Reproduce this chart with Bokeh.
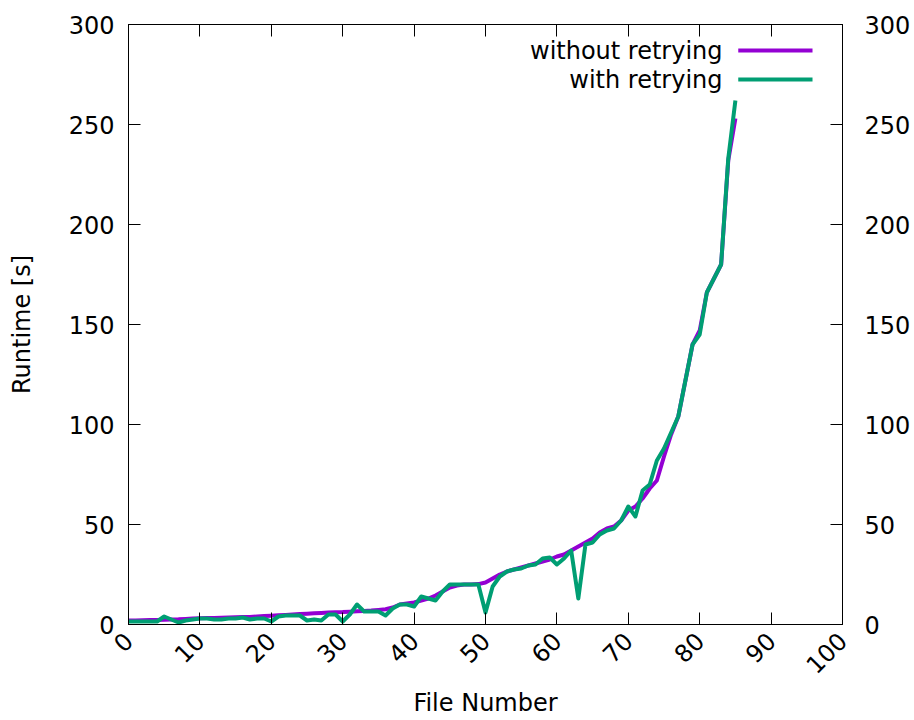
import math
from bokeh.plotting import figure
from bokeh.models import LinearAxis, FixedTicker, Range1d, Label, BoxAnnotation
from bokeh.embed import file_html
from bokeh.resources import INLINE

file_number = list(range(86))
without_retrying = [
    2.0, 2.0, 2.1, 2.2, 2.3, 2.4, 2.5, 2.6, 2.8, 3.0,
    3.1, 3.2, 3.3, 3.4, 3.5, 3.6, 3.7, 3.8, 4.0, 4.2,
    4.4, 4.6, 4.8, 5.0, 5.2, 5.4, 5.6, 5.8, 6.0, 6.1,
    6.2, 6.4, 6.6, 6.8, 7.0, 7.3, 7.6, 8.5, 10.0, 10.5,
    11.0, 12.0, 13.0, 14.5, 16.5, 18.5, 19.5, 20.0, 20.0, 20.2,
    21.0, 23.0, 25.0, 26.5, 27.5, 28.5, 29.5, 30.5, 31.5, 32.5,
    34.0, 35.0, 37.0, 39.0, 41.0, 43.0, 46.0, 48.0, 49.0, 52.0,
    57.0, 59.0, 63.0, 68.0, 72.0, 84.0, 95.0, 104.0, 122.0, 140.0,
    147.0, 166.0, 173.0, 180.0, 232.0, 253.0,
]
with_retrying = [
    1.5, 1.5, 1.5, 1.5, 1.5, 4.0, 2.5, 1.0, 2.0, 2.5,
    3.0, 3.0, 2.5, 2.5, 3.0, 3.0, 3.5, 2.5, 3.0, 3.0,
    1.5, 4.0, 4.5, 4.5, 4.5, 2.0, 2.5, 2.0, 5.0, 5.0,
    1.5, 5.0, 10.0, 6.5, 6.5, 6.5, 4.5, 8.0, 10.0, 10.0,
    9.0, 14.0, 13.0, 12.0, 16.5, 20.0, 20.0, 20.0, 20.0, 20.0,
    6.0, 19.0, 24.0, 26.5, 27.5, 28.0, 29.5, 30.0, 33.0, 33.5,
    30.0, 33.0, 37.0, 13.0, 40.0, 41.0, 45.0, 47.0, 48.0, 52.0,
    59.0, 54.0, 67.0, 70.0, 82.0, 88.0, 96.0, 104.0, 122.0, 140.0,
    145.0, 166.0, 173.0, 180.0, 233.0, 262.0,
]
x_ticks = [0, 10, 20, 30, 40, 50, 60, 70, 80, 90, 100]
y_ticks = [0, 50, 100, 150, 200, 250, 300]
series_names = ["without retrying", "with retrying"]
series_colors = ["#9400D3", "#009E73"]

FONT = "DejaVu Sans"
FS = "24px"

p = figure(width=914, height=720, output_backend="svg", toolbar_location=None,
           x_range=Range1d(0, 100), y_range=Range1d(0, 300),
           min_border_left=128, min_border_right=72, min_border_top=24,
           min_border_bottom=96)
p.grid.visible = False
p.outline_line_color = "black"
p.outline_line_width = 1
p.background_fill_color = "white"
p.border_fill_color = "white"

bottom_axis = p.below[0]
left_axis = p.left[0]
top_axis = LinearAxis(major_label_overrides={t: "" for t in x_ticks})
right_axis = LinearAxis()
p.add_layout(top_axis, "above")
p.add_layout(right_axis, "right")

bottom_axis.axis_label = "File Number"
left_axis.axis_label = "Runtime [s]"

for ax in (bottom_axis, top_axis):
    ax.ticker = FixedTicker(ticks=x_ticks)
for ax in (left_axis, right_axis):
    ax.ticker = FixedTicker(ticks=y_ticks)

for ax in (bottom_axis, top_axis, left_axis, right_axis):
    ax.major_tick_in = 12
    ax.major_tick_out = 0
    ax.minor_tick_line_color = None
    ax.axis_line_color = "black"
    ax.major_tick_line_color = "black"
    ax.major_label_text_font = FONT
    ax.major_label_text_font_size = FS
    ax.major_label_text_color = "black"
    ax.axis_label_text_font = FONT
    ax.axis_label_text_font_size = FS
    ax.axis_label_text_font_style = "normal"
    ax.axis_label_text_color = "black"

bottom_axis.major_label_orientation = math.pi / 4
bottom_axis.major_label_standoff = 12
bottom_axis.axis_label_standoff = 4
left_axis.major_label_standoff = 14
left_axis.axis_label_standoff = 30
top_axis.major_label_standoff = 0
right_axis.major_label_standoff = 22

for ys, color in zip([without_retrying, with_retrying], series_colors):
    p.line(file_number, ys, line_color=color, line_width=4, line_join="round")

# legend (text left of sample line, as in the reference)
leg_y = [287, 272.5]
for name, color, ly in zip(series_names, series_colors, leg_y):
    p.add_layout(Label(x=83.2, y=ly, text=name, text_align="right",
                       text_baseline="middle", text_font=FONT,
                       text_font_size=FS, text_color="black"))
    p.add_layout(BoxAnnotation(left=85.4, right=95.8, bottom=ly - 1, top=ly + 1,
                               fill_color=color, fill_alpha=1.0, line_color=None))

open("out.html", "w").write(file_html(p, INLINE))
